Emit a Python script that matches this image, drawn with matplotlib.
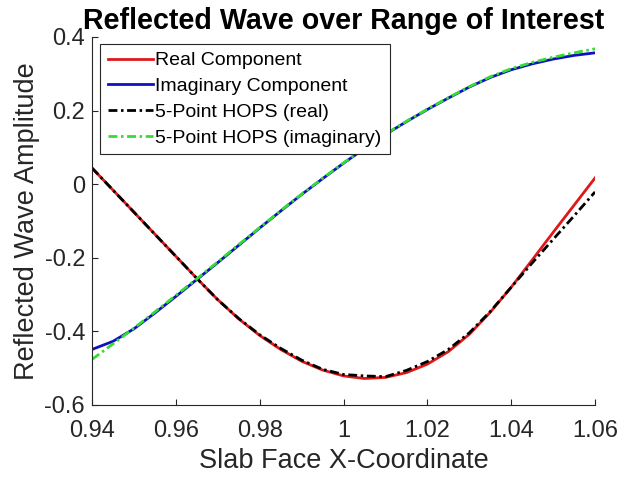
import matplotlib
matplotlib.use("Agg")
import matplotlib.pyplot as plt

x = [0.940, 0.945, 0.950, 0.955, 0.960, 0.965, 0.970, 0.975, 0.980, 0.985,
     0.990, 0.995, 1.000, 1.005, 1.010, 1.015, 1.020, 1.025, 1.030, 1.035,
     1.040, 1.045, 1.050, 1.055, 1.060]

real_component = [0.044, -0.016, -0.076, -0.136, -0.196, -0.256, -0.314, -0.366,
                  -0.411, -0.449, -0.481, -0.505, -0.521, -0.528, -0.525, -0.512,
                  -0.489, -0.455, -0.408, -0.348, -0.280, -0.206, -0.131, -0.057,
                  0.017]

imag_component = [-0.449, -0.427, -0.393, -0.350, -0.305, -0.259, -0.213, -0.166,
                  -0.119, -0.073, -0.028, 0.015, 0.057, 0.097, 0.135, 0.170,
                  0.203, 0.234, 0.264, 0.290, 0.311, 0.327, 0.340, 0.350, 0.357]

hops_real = [0.044, -0.016, -0.076, -0.136, -0.196, -0.256, -0.314, -0.365,
             -0.409, -0.446, -0.478, -0.503, -0.517, -0.521, -0.523, -0.506,
             -0.482, -0.449, -0.404, -0.346, -0.280, -0.214, -0.150, -0.086,
             -0.021]

hops_imag = [-0.476, -0.434, -0.391, -0.347, -0.302, -0.257, -0.211, -0.164,
             -0.118, -0.072, -0.027, 0.016, 0.058, 0.098, 0.136, 0.171,
             0.204, 0.235, 0.265, 0.292, 0.314, 0.331, 0.345, 0.357, 0.368]

x_ticks = [0.94, 0.96, 0.98, 1.00, 1.02, 1.04, 1.06]
x_tick_labels = ["0.94", "0.96", "0.98", "1", "1.02", "1.04", "1.06"]
y_ticks = [-0.6, -0.4, -0.2, 0.0, 0.2, 0.4]
y_tick_labels = ["-0.6", "-0.4", "-0.2", "0", "0.2", "0.4"]

plt.rcParams['font.family'] = ['Liberation Sans', 'DejaVu Sans']
axc = (0.15, 0.15, 0.15)

fig = plt.figure(figsize=(6.36, 4.83), dpi=100)
ax = fig.add_axes([0.1447, 0.1615, 0.7909, 0.7619])

dashdot = (0, (3.2, 1.3, 0.9, 1.3))
ax.plot(x, real_component, color='#e01818', lw=2.0, label='Real Component')
ax.plot(x, imag_component, color='#1010c0', lw=2.0, label='Imaginary Component')
ax.plot(x, hops_real, color='black', lw=2.0, ls=dashdot, label='5-Point HOPS (real)')
ax.plot(x, hops_imag, color='#33dd33', lw=2.0, ls=dashdot, label='5-Point HOPS (imaginary)')

ax.set_xlim(0.94, 1.06)
ax.set_ylim(-0.6, 0.4)
ax.set_xticks(x_ticks)
ax.set_xticklabels(x_tick_labels)
ax.set_yticks(y_ticks)
ax.set_yticklabels(y_tick_labels)

for s in ['top', 'right']:
    ax.spines[s].set_visible(False)
for s in ['left', 'bottom']:
    ax.spines[s].set_color(axc)
    ax.spines[s].set_linewidth(0.8)

ax.tick_params(direction='in', length=4, width=0.8, colors=axc, labelsize=17)
ax.tick_params(axis='x', pad=11)
ax.tick_params(axis='y', pad=5)

ax.set_xlabel('Slab Face X-Coordinate', fontsize=19.5, color=axc, labelpad=4)
ax.set_ylabel('Reflected Wave Amplitude', fontsize=19.5, color=axc, labelpad=3)
ax.set_title('Reflected Wave over Range of Interest', fontsize=20.6, fontweight='bold',
             color='black', pad=6)

leg = ax.legend(loc='upper left', bbox_to_anchor=(0.016, 0.981), fontsize=14,
                frameon=True, fancybox=False, edgecolor=axc, framealpha=1,
                handlelength=2.3, handletextpad=0.15, labelspacing=0.42,
                borderpad=0.4, borderaxespad=0.0)
leg.get_frame().set_linewidth(0.8)
for t in leg.get_texts():
    t.set_color('black')

fig.savefig('out.png', dpi=100)
